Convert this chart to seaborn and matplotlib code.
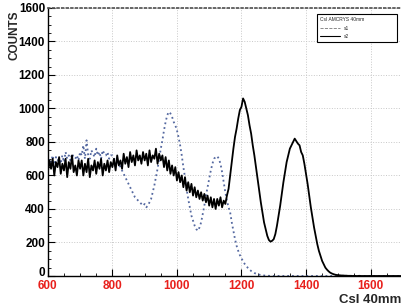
import numpy as np
import pandas as pd
import matplotlib
matplotlib.use("Agg")
import matplotlib.pyplot as plt
import matplotlib.transforms as mtransforms
from matplotlib.lines import Line2D
from matplotlib.ticker import MultipleLocator
import seaborn as sns

# histogram bins, 5 units wide starting at 600
bin_start = 600
bin_width = 5

# s1 : dotted blue spectrum (one row = 100 units)
s1_counts = [
    660, 700, 680, 720, 650, 710, 690, 700, 670, 720, 680, 740, 700, 720, 690, 730, 710, 700, 720, 690,
    740, 720, 780, 700, 810, 720, 700, 750, 730, 710, 760, 720, 740, 700, 750, 730, 720, 740, 700, 720,
    720, 700, 690, 680, 670, 650, 630, 610, 590, 570, 550, 530, 510, 490, 470, 460, 450, 440, 430, 420,
    430, 410, 420, 440, 460, 500, 540, 590, 640, 700, 760, 810, 870, 920, 960, 980, 970, 950, 920, 900,
    870, 830, 780, 720, 650, 590, 520, 460, 410, 360, 330, 300, 280, 270, 290, 320, 370, 420, 480, 530,
    580, 630, 670, 700, 710, 715, 700, 670, 620, 560, 500, 450, 410, 380, 320, 270, 220, 180, 150, 125,
    105, 88, 72, 60, 48, 38, 30, 24, 18, 14, 10, 8, 6, 4, 3, 2, 2, 1, 1, 1,
    0, 0, 0, 0, 0, 0, 0, 0, 0, 0, 0, 0, 0, 0, 0, 0, 0, 0, 0, 0,
    0, 0, 0, 0, 0, 0, 0, 0, 0, 0, 0, 0, 0, 0, 0, 0, 0, 0, 0, 0,
    0, 0, 0, 0, 0, 0, 0, 0, 0, 0, 0, 0, 0, 0, 0, 0, 0, 0, 0, 0,
    0, 0, 0, 0, 0, 0, 0, 0, 0, 0, 0, 0, 0, 0, 0, 0, 0, 0, 0, 0,
]

# s2 : solid black spectrum
s2_counts = [
    620, 690, 640, 700, 600, 680, 650, 710, 610, 670, 630, 700, 590, 680, 640, 720, 620, 660, 600, 690,
    640, 690, 600, 670, 620, 700, 590, 660, 630, 690, 610, 680, 640, 700, 600, 670, 630, 690, 620, 680,
    650, 700, 630, 720, 660, 690, 640, 730, 670, 710, 650, 740, 680, 720, 660, 750, 690, 720, 670, 740,
    690, 730, 660, 750, 680, 720, 700, 760, 670, 730, 690, 720, 650, 710, 630, 690, 610, 660, 600, 650,
    570, 620, 560, 600, 530, 590, 510, 560, 500, 550, 480, 530, 470, 510, 460, 500, 450, 490, 440, 480,
    420, 470, 410, 460, 400, 460, 420, 470, 410, 450, 430, 480, 520, 600, 680, 760, 830, 880, 940, 990,
    1010, 1060, 1040, 1000, 960, 900, 850, 780, 720, 650, 580, 510, 440, 380, 320, 280, 240, 215, 205, 210,
    220, 250, 300, 360, 420, 490, 560, 620, 680, 720, 760, 780, 800, 820, 805, 790, 780, 740, 720, 670,
    610, 550, 480, 410, 350, 290, 240, 190, 150, 120, 90, 70, 50, 38, 28, 20, 15, 11, 8, 6,
    5, 4, 3, 3, 2, 2, 1, 1, 1, 0, 1, 0, 0, 1, 0, 0, 0, 0, 0, 0,
    0, 0, 0, 0, 0, 0, 0, 0, 0, 0, 0, 0, 0, 0, 0, 0, 0, 0, 0, 0,
]

x_ticks = [600, 800, 1000, 1200, 1400, 1600]
y_ticks = [0, 200, 400, 600, 800, 1000, 1200, 1400, 1600]

channel = bin_start + bin_width * np.arange(len(s2_counts))
df = pd.DataFrame({"channel": channel, "s1": s1_counts, "s2": s2_counts})

sns.set_theme(style="white")
plt.rcParams["font.family"] = ["Liberation Sans", "DejaVu Sans"]

fig = plt.figure(figsize=(4.02, 3.07), dpi=100)
ax = fig.add_axes([0.119, 0.101, 0.883, 0.873])

blue = "#5468a0"
sns.lineplot(data=df, x="channel", y="s1", ax=ax, color=blue, linestyle=":",
             linewidth=1.3)
sns.lineplot(data=df, x="channel", y="s2", ax=ax, color="black", linestyle="-",
             linewidth=1.3)

ax.set_xlim(600, 1700)
ax.set_ylim(0, 1600)
ax.set_xticks(x_ticks)
ax.set_yticks(y_ticks)
ax.xaxis.set_minor_locator(MultipleLocator(50))
ax.yaxis.set_minor_locator(MultipleLocator(50))
ax.tick_params(which="major", direction="in", length=5, width=0.8, color="black",
               bottom=True, left=True)
ax.tick_params(which="minor", direction="in", length=2.5, width=0.6, color="black",
               bottom=True, left=True)
ax.tick_params(axis="x", labelcolor="#e8201c", labelsize=8.5, pad=3)
ax.tick_params(axis="y", labelcolor="black", labelsize=8.5, pad=2)
for lab in ax.get_xticklabels() + ax.get_yticklabels():
    lab.set_fontweight("bold")
# the "0" sits a little above the axis, clear of the "600" below it
zero_lab = ax.get_yticklabels()[0]
zero_lab.set_transform(zero_lab.get_transform() +
                       mtransforms.ScaledTranslation(0, 3 / 72, fig.dpi_scale_trans))

ax.grid(True, which="major", linestyle=":", color="#c8c8c8", linewidth=0.7)
ax.spines["right"].set_visible(False)
ax.spines["top"].set_linestyle(":")
ax.spines["top"].set_color("#555555")
for side in ["left", "bottom"]:
    ax.spines[side].set_color("black")
    ax.spines[side].set_linewidth(1.0)

ax.set_xlabel("")
ax.set_ylabel("")
fig.text(0.998, 0.022, "CsI 40mm", ha="right", va="center", fontsize=9.5,
         fontweight="bold")
fig.text(0.035, 0.885, "COUNTS", rotation=90, ha="center", va="center",
         fontsize=8.5, fontweight="bold")

handles = [Line2D([], [], color="#777777", linestyle="--", linewidth=0.6),
           Line2D([], [], color="black", linestyle="-", linewidth=0.8)]
leg = ax.legend(handles, ["s1", "s2"], title="CsI AMCRYS 40mm", loc="upper left",
                bbox_to_anchor=(0.752, 0.872, 0.238, 0.113), mode="expand",
                fontsize=3.5, title_fontsize=3.5,
                frameon=True, fancybox=False, edgecolor="black", framealpha=1,
                handlelength=4, labelspacing=0.7, borderpad=0.6)
leg.get_frame().set_linewidth(0.8)
leg._legend_box.align = "left"

fig.savefig("out.png", dpi=100)
